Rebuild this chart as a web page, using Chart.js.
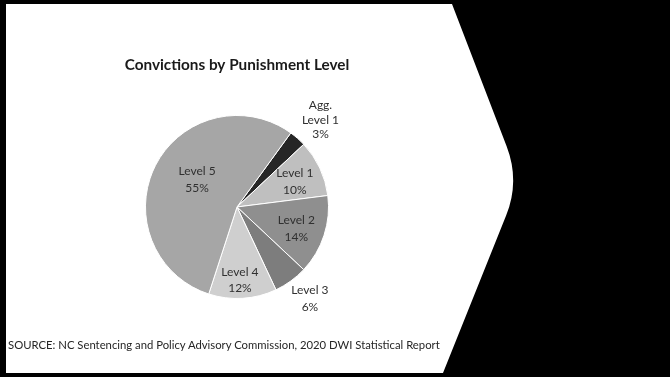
<!DOCTYPE html>
<html>
<head>
<meta charset="utf-8">
<script src="https://cdn.jsdelivr.net/npm/chart.js@4.4.0/dist/chart.umd.min.js"></script>
<style>
    html, body { margin: 0; padding: 0; background: #000; }
    #wrap { position: relative; width: 670px; height: 377px; overflow: hidden; }
    #bg, #pieChart { position: absolute; left: 0; top: 0; }
    #source {
        position: absolute; left: 8px; top: 337px;
        font: 11.3px Lato, "Open Sans", sans-serif; line-height: 16px;
        color: #262626; white-space: nowrap;
    }
</style>
</head>
<body>
<div id="wrap">
    <canvas id="bg" width="670" height="377"></canvas>
    <canvas id="pieChart" width="670" height="377"></canvas>
    <div id="source">SOURCE: NC Sentencing and Policy Advisory Commission, 2020 DWI Statistical Report</div>
</div>
<script>
// Données du graphique
const levels = [['Agg.', 'Level 1'], 'Level 1', 'Level 2', 'Level 3', 'Level 4', 'Level 5'];
const shares = [3, 10, 14, 6, 12, 55];
const shareLabels = ['3%', '10%', '14%', '6%', '12%', '55%'];

const sliceColors = ['#262626', '#bfbfbf', '#8f8f8f', '#7d7d7d', '#cfcfcf', '#a6a6a6'];
// Placement des étiquettes : facteur de rayon et décalage d'angle (degrés)
const labelPlace = [
    { r: 1.32, da: 2.3 },
    { r: 0.69, da: 1.5 },
    { r: 0.69, da: 2 },
    { r: 1.28, da: -2.5 },
    { r: 0.80, da: 1.3 },
    { r: 0.53, da: 7.5 }
];

/**
 * Dessine le fond de la diapositive (cadre noir et chevron)
 */
function drawBackground() {
    const ctx = document.getElementById('bg').getContext('2d');
    ctx.fillStyle = '#000';
    ctx.fillRect(0, 0, 670, 377);
    ctx.fillStyle = '#fff';
    ctx.beginPath();
    ctx.moveTo(6, 4);
    ctx.lineTo(452, 4);
    ctx.arcTo(520, 181, 443, 373, 95);
    ctx.lineTo(443, 373);
    ctx.lineTo(6, 373);
    ctx.closePath();
    ctx.fill();
}

//Plugin pour écrire les étiquettes des parts
const sliceLabels = {
    id: 'sliceLabels',
    afterDatasetsDraw(chart) {
        const ctx = chart.ctx;
        const meta = chart.getDatasetMeta(0);
        ctx.save();
        ctx.font = '12px Lato, "Open Sans", sans-serif';
        ctx.fillStyle = '#303030';
        ctx.textAlign = 'center';
        ctx.textBaseline = 'middle';
        meta.data.forEach((arc, i) => {
            const p = arc.getProps(['x', 'y', 'startAngle', 'endAngle', 'outerRadius']);
            const mid = (p.startAngle + p.endAngle) / 2 + labelPlace[i].da * Math.PI / 180;
            const r = p.outerRadius * labelPlace[i].r;
            const cx = p.x + Math.cos(mid) * r;
            const cy = p.y + Math.sin(mid) * r;
            const name = Array.isArray(levels[i]) ? levels[i] : [levels[i]];
            const lines = name.concat([shareLabels[i]]);
            const lh = lines.length > 2 ? 14.5 : 16.5;
            lines.forEach((txt, k) => {
                ctx.fillText(txt, cx, cy + (k - (lines.length - 1) / 2) * lh);
            });
        });
        ctx.restore();
    }
};

drawBackground();

const ctx = document.getElementById('pieChart').getContext('2d');
const pieChart = new Chart(ctx, {
    type: 'pie',
    data: {
        labels: levels,
        datasets: [{
            data: shares,
            backgroundColor: sliceColors,
            borderColor: '#ffffff',
            borderWidth: 1
        }]
    },
    options: {
        responsive: false,
        animation: false,
        rotation: 36,
        layout: {
            padding: { left: 45, right: 241, top: 55.8, bottom: 78 }
        },
        plugins: {
            legend: { display: false },
            tooltip: { enabled: false },
            title: {
                display: true,
                text: 'Convictions by Punishment Level',
                color: '#1a1a1a',
                font: { family: 'Lato', size: 15.3, weight: 'bold', lineHeight: 1.2 },
                padding: { top: 0, bottom: 40.8 }
            }
        }
    },
    plugins: [sliceLabels]
});
</script>
</body>
</html>
